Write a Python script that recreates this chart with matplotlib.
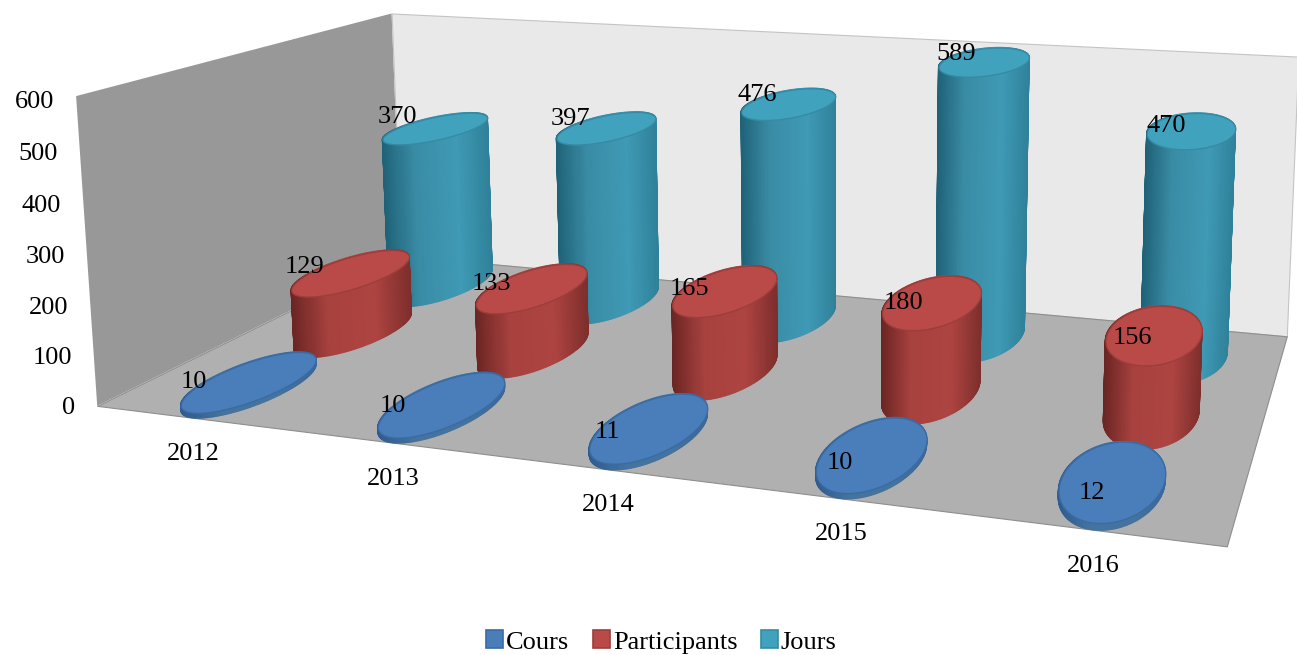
import numpy as np
import matplotlib
matplotlib.use('Agg')
import matplotlib.pyplot as plt
from matplotlib.patches import Patch
from mpl_toolkits.mplot3d.art3d import Poly3DCollection

years = ['2012', '2013', '2014', '2015', '2016']
yticks = [0, 100, 200, 300, 400, 500, 600]
cours = [10, 10, 11, 10, 12]
participants = [129, 133, 165, 180, 156]
jours = [370, 397, 476, 589, 470]
names = ['Cours', 'Participants', 'Jours']

W, H = 1297, 655
plt.rcParams['font.family'] = ['Liberation Serif', 'DejaVu Serif']
FS = 19

# where the box corners (year, row, value) land on the picture, used to solve the camera
corners_3d = [(0, 0, 0), (5, 0, 0), (0, 3, 0), (5, 3, 0), (0, 0, 600), (0, 3, 600), (5, 3, 600)]
corners_px = [(101, 402), (1227, 549), (397, 260), (1288, 333), (72, 98), (396, 11), (1297, 58)]


def solve_camera():
    rows = []
    for (x, y, z), (u, v) in zip(corners_3d, corners_px):
        v = H - v
        z = z / 600
        rows.append([x, y, z, 1, 0, 0, 0, 0, -u*x, -u*y, -u*z, -u])
        rows.append([0, 0, 0, 0, x, y, z, 1, -v*x, -v*y, -v*z, -v])
    p = np.linalg.svd(np.array(rows, float))[2][-1].reshape(3, 4)
    p[:, 2] /= 600
    hs = [p[2] @ np.array([*c, 1]) for c in corners_3d]
    return p / np.mean(hs)


P = solve_camera()


def to_px(x, y, z):
    q = P @ np.array([x, y, z, 1.0])
    return q[0]/q[2], H - q[1]/q[2]


fig = plt.figure(figsize=(W/100, H/100), dpi=100)
ax = fig.add_axes([0, 0, 1, 1], projection='3d', computed_zorder=False)
ax.apply_aspect = lambda position=None: None
ax.set_axis_off()


def get_proj():
    a = ax.transData.inverted().get_affine().get_matrix()
    r0 = a[0, 0]*P[0] + a[0, 1]*P[1] + a[0, 2]*P[2]
    r1 = a[1, 0]*P[0] + a[1, 1]*P[1] + a[1, 2]*P[2]
    r2 = P[2] - np.array([0, 0, 0, 0.5])
    return np.array([r0, r1, r2, P[2]])


ax.get_proj = get_proj


def face(verts, color, edge='none', z=0, lw=0.8):
    pc = Poly3DCollection([verts], facecolors=color, edgecolors=edge, linewidths=lw, zorder=z)
    ax.add_collection3d(pc)


# walls and floor
face([(0, 0, 0), (0, 3, 0), (0, 3, 600), (0, 0, 600)], '#989898', z=0)
face([(0, 3, 0), (5, 3, 0), (5, 3, 600), (0, 3, 600)], '#e9e9e9', '#c4c4c4', z=0)
face([(0, 0, 0), (5, 0, 0), (5, 3, 0), (0, 3, 0)], '#b0b0b0', '#8e8e8e', z=0.5)

RX, RY = 0.2, 0.5
styles = [
    ('#4a7ebb', '#3a6ba3', ['#2f5a8e', '#44739f', '#44739f', '#3a6699']),
    ('#b94a48', '#9c3e3c', ['#6a2523', '#a8423f', '#ad4441', '#7d2e2c']),
    ('#41a2be', '#358ba5', ['#1f6277', '#3a8ca5', '#3f9ab5', '#2f8199']),
]
stops = [0.0, 0.3, 0.7, 1.0]


def cylinder(x0, y0, top, top_col, edge, side_cols, z):
    th = np.linspace(0, 2*np.pi, 181)
    xs = x0 + RX*np.cos(th)
    ys = y0 + RY*np.sin(th)
    pts = [to_px(a, b, 0)[0] for a, b in zip(xs, ys)]
    t = (np.array(pts) - min(pts)) / (max(pts) - min(pts))
    t = (t[:-1] + t[1:]) / 2
    rgb = np.array([matplotlib.colors.to_rgb(c) for c in side_cols])
    cols = np.column_stack([np.interp(t, stops, rgb[:, i]) for i in range(3)])
    segs = [[(xs[i], ys[i], 0), (xs[i+1], ys[i+1], 0), (xs[i+1], ys[i+1], top), (xs[i], ys[i], top)]
            for i in range(len(th)-1)]
    side = Poly3DCollection(segs, facecolors=cols, edgecolors=cols, linewidths=1.0, zorder=z)
    side.set_snap(False)
    ax.add_collection3d(side)
    face(list(zip(xs, ys, np.full(len(xs), top))), top_col, edge, z=z+0.1, lw=1.0)


series = [cours, participants, jours]
for k in [2, 1, 0]:
    for i, v in enumerate(series[k]):
        c = styles[k]
        # back rows drift a little to the right in the original
        cylinder(i + 0.5 + 0.005*k*(i + 1), k + 0.5, v, c[0], c[1], c[2], 3 - k)

ax.set_xlim(0, 5)
ax.set_ylim(0, 3)
ax.set_zlim(0, 600)


def label(xp, yp, s, ha='center'):
    fig.text(xp/W, 1 - yp/H, s, fontsize=FS, ha=ha, va='center', color='black', zorder=20)


for v in yticks:
    xp, yp = to_px(0, 0, v)
    label(xp - 22, yp + 2 + v/150, str(v), ha='right')
for i, y in enumerate(years):
    xp, yp = to_px(i + 0.5, 0, 0)
    label(xp + 1, yp + 36, y)

# data labels sit by hand on the cylinder tops, as in the original
cours_pos = [(194, 382), (393, 406), (607, 432), (840, 463), (1092, 493)]
part_pos = [(305, 267), (491, 284), (689, 289), (903, 303), (1132, 338)]
jours_pos = [(397, 117), (571, 119), (757, 95), (956, 54), (1166, 126)]
for vals, pos in zip(series, [cours_pos, part_pos, jours_pos]):
    for v, (xp, yp) in zip(vals, pos):
        label(xp, yp, str(v))

handles = [Patch(facecolor=c[0], edgecolor=c[1], linewidth=1.2) for c in styles]
fig.legend(handles, names, loc='center', bbox_to_anchor=(661.5/W, 1 - 642/H), ncol=3, frameon=False,
           fontsize=FS, handlelength=0.65, handleheight=0.65, handletextpad=0.1, columnspacing=0.9,
           borderpad=0)

fig.savefig('out.png', dpi=100)
